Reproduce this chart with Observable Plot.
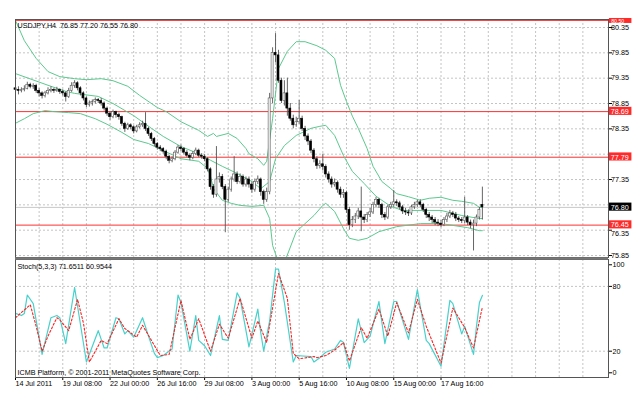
<!DOCTYPE html>
<html><head><meta charset="utf-8">
<script src="https://cdn.jsdelivr.net/npm/d3@7"></script>
<script src="https://cdn.jsdelivr.net/npm/@observablehq/plot@0.6"></script>
<style>
body{margin:0;background:#fff;}
#wrap{position:relative;width:638px;height:398px;overflow:hidden;background:#fff;}
#wrap svg{position:absolute;left:0;}
</style></head><body><div id="wrap"></div>
<script>
const FONT = '"Liberation Sans", Arial, sans-serif';
const title = "USDJPY,H4\u00a0 76.85 77.20 76.55 76.80";
const stochTitle = "Stoch(5,3,3) 71.6511 60.9544";
const copyright = "ICMB Platform, \u00a9 2001-2011 MetaQuotes Software Corp.";

const timeLabels = ["14 Jul 2011","19 Jul 08:00","22 Jul 00:00","26 Jul 16:00","29 Jul 08:00","3 Aug 00:00","5 Aug 16:00","10 Aug 08:00","15 Aug 00:00","17 Aug 16:00"];
const labelBars = [0,16,32,48,64,80,96,112,128,144];
const gridBars = [8,16,24,32,40,48,56,64,72,80,88,96,104,112,120,128,136,144,152,160,168,176,184,192];
const priceTicks = [80.35,79.85,79.35,78.85,78.35,77.85,77.35,76.85,76.35,75.85];
const shownPriceTicks = [80.35,79.85,79.35,78.85,78.35,77.35,75.85];
const lowPriceTick = [76.35];
const stochTicks = [100,80,20,0];
const stochLevels = [80,20];
const redLevels = [80.49,78.69,77.79,76.45];
const bidPrice = 76.80;
const levelBoxes = [{p:78.69,bg:"#ff2a2a"},{p:77.79,bg:"#ff2a2a"},{p:76.80,bg:"#000000"},{p:76.45,bg:"#ff2a2a"}];
const topBox = [{p:80.49,label:"80.50"}];

const opens = [
79.15,79.12,79.10,79.12,79.14,79.22,79.18,79.20,79.10,79.05,
79.00,79.05,79.10,79.12,79.10,79.12,79.08,79.05,78.98,79.10,
79.20,79.25,79.15,79.05,78.95,78.82,78.85,78.88,78.92,78.90,
78.85,78.75,78.65,78.58,78.68,78.62,78.58,78.45,78.35,78.42,
78.38,78.30,78.38,78.42,78.45,78.35,78.25,78.15,78.05,77.98,
77.95,77.90,77.80,77.72,77.75,77.88,77.98,77.95,77.88,77.82,
77.78,77.85,77.92,77.82,77.80,77.75,77.55,77.20,77.05,77.35,
77.40,77.20,76.95,77.15,77.35,77.45,77.30,77.40,77.25,77.35,
77.25,77.15,77.30,77.35,77.10,76.95,77.10,78.95,79.85,79.80,
79.30,78.90,79.05,78.75,78.55,78.42,78.48,78.55,78.35,78.20,
78.10,77.92,77.75,77.62,77.65,77.60,77.45,77.35,77.25,77.28,
77.15,77.05,77.08,76.75,76.45,76.55,76.62,76.72,76.60,76.55,
76.65,76.70,76.85,76.95,76.85,76.65,76.60,76.80,76.85,76.90,
76.88,76.80,76.72,76.70,76.68,76.80,76.85,76.90,76.85,76.75,
76.65,76.60,76.55,76.50,76.48,76.45,76.55,76.62,76.68,76.65,
76.58,76.55,76.53,76.60,76.50,76.45,76.48,76.60,76.85];
const highs = [
79.20,79.18,79.16,79.20,79.27,79.25,79.24,79.23,79.14,79.08,
79.09,79.16,79.18,79.15,79.17,79.14,79.12,79.08,79.15,79.26,
79.30,79.28,79.18,79.08,78.98,78.90,78.92,78.96,78.95,78.95,
78.88,78.78,78.68,78.72,78.70,78.66,78.60,78.48,78.46,78.45,
78.41,78.42,78.47,78.50,78.67,78.38,78.28,78.18,78.08,78.02,
77.98,77.93,77.83,77.80,77.92,78.02,78.03,77.98,77.92,77.86,
77.90,77.97,77.95,77.86,77.84,77.78,77.58,77.25,78.00,77.48,
77.45,77.25,77.20,77.40,77.80,77.50,77.46,77.44,77.40,77.40,
77.30,77.36,77.42,77.38,77.14,77.18,79.05,79.95,80.23,79.90,
79.35,79.30,79.35,78.85,78.62,78.58,78.91,78.60,78.40,78.25,
78.14,77.96,77.80,77.72,77.85,77.64,77.50,77.40,77.36,77.32,
77.20,77.15,77.12,76.80,76.62,76.68,76.78,77.20,76.66,76.70,
76.78,76.90,77.00,76.98,76.88,76.70,76.84,76.90,77.13,76.95,
76.92,76.84,76.78,76.75,76.84,76.90,76.94,76.95,76.88,76.78,
76.70,76.64,76.60,76.56,76.54,76.60,76.68,76.74,76.72,76.70,
76.62,76.60,77.00,76.64,76.55,76.55,76.65,76.80,77.20];
const lows = [
79.05,79.02,79.06,79.08,79.12,79.14,79.13,79.05,78.98,78.94,
78.96,79.02,79.06,79.05,79.07,79.03,79.00,78.88,78.95,79.07,
79.15,79.10,79.00,78.90,78.77,78.78,78.80,78.84,78.85,78.80,
78.70,78.60,78.52,78.55,78.56,78.52,78.40,78.28,78.32,78.33,
78.25,78.27,78.35,78.38,78.30,78.20,78.10,78.00,77.93,77.90,
77.85,77.74,77.66,77.68,77.72,77.85,77.90,77.84,77.78,77.72,
77.74,77.82,77.78,77.75,77.70,77.50,77.14,76.98,77.00,77.28,
77.15,76.30,76.90,77.10,77.30,77.25,77.26,77.20,77.20,77.18,
77.08,77.10,77.25,77.02,76.86,76.90,77.05,78.85,79.65,79.25,
78.85,78.80,78.60,78.50,78.35,78.38,78.44,78.30,78.12,78.02,
77.86,77.68,77.55,77.56,77.52,77.38,77.28,77.18,77.20,77.08,
76.98,76.98,76.68,76.35,76.40,76.48,76.56,76.32,76.48,76.50,
76.60,76.66,76.80,76.78,76.58,76.54,76.56,76.76,76.80,76.82,
76.75,76.66,76.64,76.62,76.64,76.76,76.80,76.80,76.70,76.58,
76.52,76.48,76.44,76.42,76.40,76.42,76.50,76.58,76.60,76.52,
76.50,76.48,76.48,76.44,76.38,75.94,76.42,76.55,76.55];
const closes = [
79.12,79.10,79.12,79.14,79.22,79.18,79.20,79.10,79.05,79.00,
79.05,79.10,79.12,79.10,79.12,79.08,79.05,78.98,79.10,79.20,
79.25,79.15,79.05,78.95,78.82,78.85,78.88,78.92,78.90,78.85,
78.75,78.65,78.58,78.68,78.62,78.58,78.45,78.35,78.42,78.38,
78.30,78.38,78.42,78.45,78.35,78.25,78.15,78.05,77.98,77.95,
77.90,77.80,77.72,77.75,77.88,77.98,77.95,77.88,77.82,77.78,
77.85,77.92,77.82,77.80,77.75,77.55,77.20,77.05,77.35,77.40,
77.20,76.95,77.15,77.35,77.45,77.30,77.40,77.25,77.35,77.25,
77.15,77.30,77.35,77.10,76.95,77.10,78.95,79.85,79.80,79.30,
78.90,79.05,78.75,78.55,78.42,78.48,78.55,78.35,78.20,78.10,
77.92,77.75,77.62,77.65,77.60,77.45,77.35,77.25,77.28,77.15,
77.05,77.08,76.75,76.45,76.55,76.62,76.72,76.60,76.55,76.65,
76.70,76.85,76.95,76.85,76.65,76.60,76.80,76.85,76.90,76.88,
76.80,76.72,76.70,76.68,76.80,76.85,76.90,76.85,76.75,76.65,
76.60,76.55,76.50,76.48,76.45,76.55,76.62,76.68,76.65,76.58,
76.55,76.53,76.60,76.50,76.45,76.48,76.60,76.75,76.80];

// Bollinger bands: [bar, price] vertices
const bbUpper = [[0,80.49],[3,80.09],[7,79.74],[11,79.48],[15,79.38],[20,79.34],[24,79.32],[29,79.34],[33,79.30],[38,79.19],[42,79.01],[48,78.77],[51,78.69],[56,78.49],[62,78.32],[65,78.20],[67,78.26],[68,78.20],[72,78.26],[75,78.16],[78,77.96],[79,77.86],[82,77.76],[84,77.63],[85,77.71],[87,78.55],[89,79.54],[92,79.88],[95,80.07],[98,80.07],[102,79.99],[105,79.90],[108,79.74],[110,79.21],[112,78.89],[114,78.60],[116,78.36],[119,77.96],[121,77.61],[124,77.31],[127,77.17],[129,77.07],[133,77.01],[137,76.94],[140,76.98],[144,77.00],[148,76.94],[151,76.92],[155,76.88],[157,76.80],[158,76.80]];
const bbMiddle = [[0,79.44],[11,79.21],[17,79.09],[20,79.05],[28,78.99],[33,78.85],[40,78.61],[46,78.36],[50,78.20],[56,78.00],[62,77.86],[66,77.73],[70,77.61],[75,77.47],[80,77.31],[83,77.17],[86,77.31],[88,77.76],[91,78.02],[95,78.22],[100,78.36],[103,78.40],[105,78.42],[108,78.22],[111,77.82],[114,77.51],[118,77.27],[122,77.02],[127,76.82],[131,76.74],[140,76.74],[144,76.74],[151,76.64],[157,76.58],[158,76.58]];
const bbLower = [[0,78.46],[3,78.55],[6,78.65],[10,78.71],[13,78.69],[18,78.67],[22,78.65],[27,78.55],[31,78.44],[36,78.28],[40,78.14],[45,78.06],[50,77.92],[56,77.76],[62,77.71],[65,77.57],[66,77.41],[67,77.17],[70,76.94],[73,76.88],[76,76.84],[80,76.82],[84,76.84],[86,76.58],[87,76.05],[89,75.71],[91,75.71],[95,76.32],[101,76.64],[104,76.84],[105,76.88],[108,76.72],[111,76.38],[113,76.19],[116,76.15],[119,76.19],[123,76.32],[129,76.42],[137,76.48],[144,76.48],[153,76.40],[157,76.34],[158,76.34]];

// Stochastic %K and %D: [bar, value] vertices
const stochK = [[0,55],[2,53],[3,55],[4,72],[6,64],[9,17],[12,51],[14,53],[15,51],[17,27],[20,79],[24,10],[28,39],[30,23],[31,23],[34,51],[35,50],[37,36],[38,39],[40,33],[43,51],[45,34],[47,18],[48,14],[50,16],[53,22],[55,72],[56,65],[59,20],[61,53],[62,30],[64,25],[66,16],[69,53],[70,31],[72,30],[75,74],[76,69],[79,24],[82,59],[83,37],[84,20],[86,48],[88,96],[89,96],[91,65],[94,10],[95,16],[100,15],[101,10],[103,14],[105,19],[108,22],[110,30],[111,28],[113,4],[116,50],[118,28],[120,34],[123,66],[125,27],[128,66],[129,66],[133,31],[136,77],[139,30],[140,27],[144,6],[147,67],[148,64],[151,36],[152,43],[155,17],[156,43],[157,65],[158,71.65]];
const stochD = [[0,51],[5,63],[7,43],[9,20],[11,34],[14,51],[15,49],[18,39],[21,68],[23,46],[25,10],[29,30],[31,27],[35,50],[37,41],[41,33],[43,44],[46,30],[49,16],[52,17],[56,67],[59,31],[62,50],[66,20],[69,45],[72,32],[76,69],[80,32],[82,48],[85,28],[89,92],[92,69],[94,18],[96,13],[101,15],[102,14],[105,16],[108,21],[111,28],[113,11],[117,42],[119,32],[123,59],[126,34],[129,65],[133,37],[136,68],[139,43],[144,9],[148,60],[152,42],[155,23],[158,60.95]];

const bars = closes.map((c, i) => ({i, o: opens[i], h: highs[i], l: lows[i], c}));
const xDomain = [0, 593 / 2.955];
const GRID = {stroke: "#c4c4c4", strokeDasharray: "2,2"};
const BB = "#5cc98e";
const styleObj = {fontFamily: FONT, fontSize: "7.2px", color: "#000", background: "transparent", overflow: "visible"};

const main = Plot.plot({
  width: 638, height: 258,
  marginLeft: 15, marginRight: 30, marginTop: 19, marginBottom: 1,
  x: {domain: xDomain, axis: null},
  y: {domain: [75.811, 80.508], axis: null},
  style: styleObj,
  marks: [
    Plot.ruleY(priceTicks, GRID),
    Plot.ruleX(gridBars, GRID),
    Plot.ruleY([bidPrice], {stroke: "#c8c8c8"}),
    Plot.ruleY(redLevels, {stroke: "#ff3030"}),
    Plot.line(bbUpper, {x: d => d[0], y: d => d[1], stroke: BB, strokeWidth: 1, clip: true}),
    Plot.line(bbMiddle, {x: d => d[0], y: d => d[1], stroke: BB, strokeWidth: 1, clip: true}),
    Plot.line(bbLower, {x: d => d[0], y: d => d[1], stroke: BB, strokeWidth: 1, clip: true}),
    Plot.ruleX(bars, {x: "i", y1: "l", y2: "h", stroke: "#555555", strokeWidth: 0.9}),
    Plot.rect(bars, {x1: d => d.i - 0.34, x2: d => d.i + 0.34, y1: "o", y2: "c",
      fill: d => d.c >= d.o ? "#ffffff" : "#000000", stroke: d => d.c >= d.o ? "#555555" : "#000000", strokeWidth: 0.6}),
    Plot.axisY(priceTicks, {anchor: "right", tickSize: 3, tickPadding: 1, label: null, text: null}),
    Plot.text(shownPriceTicks, {x: 201.5, y: d => d, text: d => d.toFixed(2), textAnchor: "start", fill: "#000"}),
    Plot.text(lowPriceTick, {x: 201.5, y: d => d, dy: 3.5, text: d => d.toFixed(2), textAnchor: "start", fill: "#000"}),
    Plot.rect(levelBoxes, {x1: 201, x2: 208.6, y1: d => d.p - 0.075, y2: d => d.p + 0.085, fill: "bg"}),
    Plot.text(levelBoxes, {x: 201.4, y: "p", text: d => d.p.toFixed(2), fill: "white", textAnchor: "start"}),
    Plot.rect(topBox, {x1: 201, x2: 208.6, y1: 80.43, y2: 80.528, fill: "#ff2a2a"}),
    Plot.text(topBox, {x: 201.6, y: 80.478, text: "label", fill: "white", textAnchor: "start", fontSize: 5.2}),
    Plot.frame({stroke: "#555"}),
    Plot.text([title], {frameAnchor: "top-left", dx: 2, dy: 3, lineAnchor: "top", textAnchor: "start", fill: "#000"})
  ]
});

const stoch = Plot.plot({
  width: 638, height: 140,
  marginLeft: 15, marginRight: 30, marginTop: 1, marginBottom: 21,
  x: {domain: xDomain},
  y: {domain: [-4.35, 104.9]},
  style: styleObj,
  marks: [
    Plot.ruleY(stochLevels, GRID),
    Plot.ruleX(gridBars, GRID),
    Plot.line(stochK, {x: d => d[0], y: d => d[1], stroke: "#48d1cc", strokeWidth: 1.2}),
    Plot.line(stochD, {x: d => d[0], y: d => d[1], stroke: "#ff2020", strokeWidth: 1.1, strokeDasharray: "2,2"}),
    Plot.axisY(stochTicks, {anchor: "right", tickSize: 3, tickPadding: 1, label: null}),
    Plot.axisX(labelBars, {anchor: "bottom", tickSize: 3, tickPadding: 0, textAnchor: "start", label: null,
      tickFormat: d => timeLabels[labelBars.indexOf(d)]}),
    Plot.frame({stroke: "#555"}),
    Plot.ruleY([105.8], {stroke: "#777", strokeWidth: 2.5}),
    Plot.text([stochTitle], {frameAnchor: "top-left", dx: 2, dy: 4, lineAnchor: "top", textAnchor: "start", fill: "#000"}),
    Plot.text([copyright], {frameAnchor: "bottom-left", dx: 2, dy: -3, lineAnchor: "bottom", textAnchor: "start", fill: "#000"})
  ]
});

main.style.top = "0px";
stoch.style.top = "258px";
const wrap = document.getElementById("wrap");
wrap.appendChild(main);
wrap.appendChild(stoch);
</script></body></html>
